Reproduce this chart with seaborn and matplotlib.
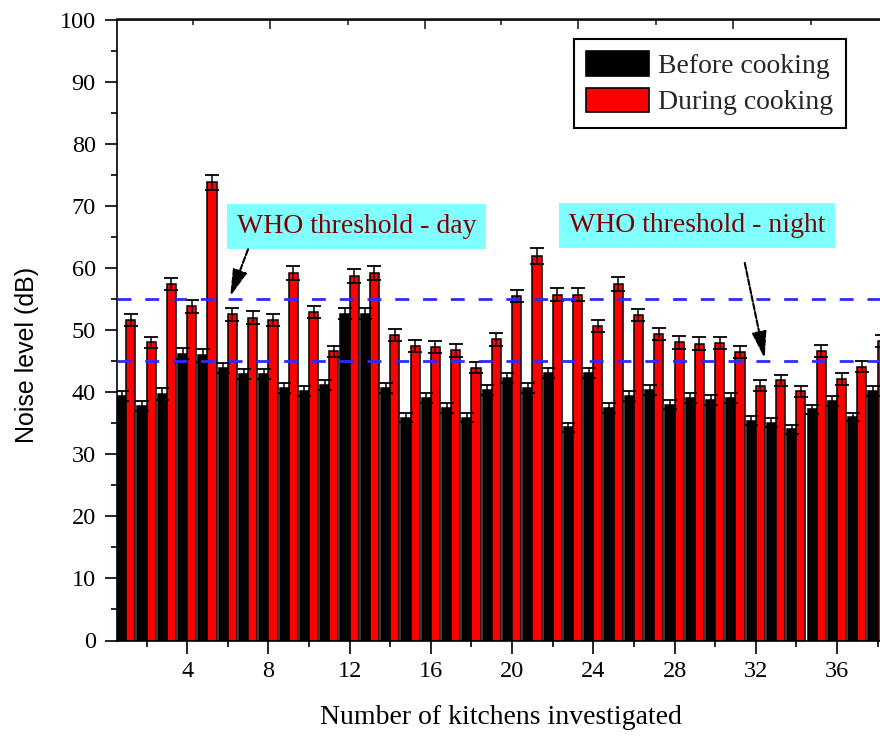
import numpy as np
import pandas as pd
import matplotlib
matplotlib.use("Agg")
import matplotlib.pyplot as plt
import seaborn as sns
from matplotlib.ticker import MultipleLocator

# ---------------- data ----------------
kitchens = list(range(1, 39))
before_cooking = [39.4, 37.8, 39.7, 46.2, 45.9, 43.9, 42.9, 42.9, 40.6, 40.2,
                  41.2, 52.6, 52.6, 40.6, 35.9, 39.1, 37.5, 35.9, 40.3, 42.3,
                  40.6, 43.1, 34.3, 43.1, 37.5, 39.4, 40.3, 38.0, 39.0, 38.7,
                  39.0, 35.4, 35.1, 34.0, 37.2, 38.5, 36.0, 40.2]
during_cooking = [51.6, 48.0, 57.4, 53.8, 73.8, 52.5, 52.0, 51.6, 59.2, 52.9,
                  46.6, 58.7, 59.2, 49.2, 47.4, 47.3, 46.7, 43.9, 48.5, 55.5,
                  61.9, 55.7, 55.7, 50.6, 57.4, 52.4, 49.4, 48.0, 47.8, 47.9,
                  46.5, 41.0, 41.9, 40.1, 46.6, 42.1, 44.1, 48.2]
before_err = [0.8, 0.8, 0.9, 0.9, 1.0, 0.8, 0.8, 0.8, 0.8, 0.8,
              0.8, 0.9, 0.9, 0.8, 0.7, 0.8, 0.8, 0.7, 0.8, 0.8,
              0.8, 0.8, 0.7, 0.8, 0.8, 0.8, 0.8, 0.8, 0.8, 0.8,
              0.8, 0.7, 0.7, 0.7, 0.8, 0.8, 0.7, 0.8]
during_err = [1.0, 0.9, 1.0, 1.0, 1.2, 1.0, 1.0, 1.0, 1.1, 1.0,
              0.9, 1.1, 1.1, 1.0, 1.0, 1.0, 1.0, 0.9, 1.0, 1.0,
              1.3, 1.0, 1.0, 1.0, 1.1, 1.0, 1.0, 1.0, 1.0, 1.0,
              1.0, 0.9, 0.9, 0.9, 1.0, 0.9, 0.9, 1.0]
series_names = ["Before cooking", "During cooking"]
who_day = 55
who_night = 45
x_ticks = [4, 8, 12, 16, 20, 24, 28, 32, 36]

df = pd.DataFrame({
    "Kitchen": kitchens * 2,
    "Noise": before_cooking + during_cooking,
    "Phase": [series_names[0]] * len(kitchens) + [series_names[1]] * len(kitchens),
})

# ---------------- style ----------------
sns.set_theme(style="ticks")
plt.rcParams["font.family"] = ["Liberation Serif", "DejaVu Serif"]
plt.rcParams["axes.linewidth"] = 1.2

W, H = 880, 738
fig = plt.figure(figsize=(W / 100, H / 100), dpi=100)
ax = fig.add_axes([116.7 / W, (H - 640.5) / H, 1 - 116.7 / W, (640.5 - 19.5) / H])

sns.barplot(data=df, x="Kitchen", y="Noise", hue="Phase", native_scale=True,
            palette={series_names[0]: "black", series_names[1]: "#FF0000"},
            saturation=1, width=0.9, edgecolor="black", linewidth=1.1,
            errorbar=None, dodge=True, ax=ax)

# error bars at the positions seaborn gave the bars
for cont, errs in zip(ax.containers, [before_err, during_err]):
    xs = [p.get_x() + p.get_width() / 2 for p in cont.patches]
    hs = [p.get_height() for p in cont.patches]
    ax.errorbar(xs, hs, yerr=errs, fmt="none", ecolor="black",
                elinewidth=1.1, capsize=5, capthick=1.3, zorder=4)

# WHO thresholds
for thr in (who_day, who_night):
    ax.axhline(thr, color="#2B2BFF", lw=2.0, ls=(0, (5, 5)), zorder=5)

# axes
ax.set_xlim(0.53, 38.12)
ax.set_ylim(0, 100)
ax.yaxis.set_major_locator(MultipleLocator(10))
ax.yaxis.set_minor_locator(MultipleLocator(5))
ax.set_xticks(x_ticks)
ax.set_xticklabels([str(t) for t in x_ticks])
ax.xaxis.set_minor_locator(MultipleLocator(2))
ax.tick_params(axis="both", which="major", direction="out", length=9,
               width=1.2, labelsize=17.5, color="black", labelcolor="black", pad=6)
ax.tick_params(axis="both", which="minor", direction="out", length=4.5,
               width=1.2, color="black")
for s in ("left", "bottom", "top"):
    ax.spines[s].set_visible(True)
    ax.spines[s].set_color("black")
    ax.spines[s].set_linewidth(1.2)
ax.spines["right"].set_visible(False)

# top axis ticks (inward)
top = ax.secondary_xaxis("top")
top.set_xticks([8.07, 15.7, 23.26, 30.88])
top.set_xticklabels([])
top.set_xticks([4.28, 11.9, 19.47, 27.09, 34.71], minor=True)
top.tick_params(which="major", direction="in", length=7, width=1.2)
top.tick_params(which="minor", direction="in", length=4, width=1.2)
top.spines["top"].set_linewidth(1.2)

ax.set_xlabel("")
ax.set_ylabel("")
fig.text(501 / W, 1 - 718 / H, "Number of kitchens investigated",
         ha="center", va="center", fontsize=20, color="black")
fig.text(27 / W, 1 - 355 / H, "Noise level (dB)", rotation=90,
         ha="center", va="center", fontsize=18, color="black",
         family=["Liberation Sans", "DejaVu Sans"])

# legend
if ax.legend_ is not None:
    ax.legend_.remove()
handles = [plt.Rectangle((0, 0), 1, 1, fc=c, ec="black", lw=1.2)
           for c in ("black", "#FF0000")]
leg = ax.legend(handles, series_names, loc="upper right",
                bbox_to_anchor=(846 / W, 1 - 39 / H), bbox_transform=fig.transFigure,
                fontsize=20, frameon=True, fancybox=False, framealpha=1,
                edgecolor="black", borderpad=0.45, labelspacing=0.3,
                handlelength=2.27, handleheight=0.97, handletextpad=0.33,
                borderaxespad=0)
leg.get_frame().set_linewidth(1.5)

# annotations
txt_kw = dict(ha="center", va="center", color="#800000", fontsize=20, zorder=6,
              bbox=dict(boxstyle="square,pad=0.36", fc="#80FFFF", ec="none"))
ax.text(12.35, 66.7, "WHO threshold - day", **txt_kw)
ax.text(29.1, 66.9, "WHO threshold - night", **txt_kw)
arrow_kw = dict(arrowstyle="-|>,head_length=1.1,head_width=0.3", color="black",
                lw=1.5, ls=(0, (3, 1)), shrinkA=0, shrinkB=0, mutation_scale=15)
ax.annotate("", xy=(6.12, 55.4), xytext=(7.0, 63.0), arrowprops=arrow_kw, zorder=7)
ax.annotate("", xy=(32.44, 45.4), xytext=(31.46, 60.8), arrowprops=arrow_kw, zorder=7)

fig.savefig("out.png", dpi=100)
